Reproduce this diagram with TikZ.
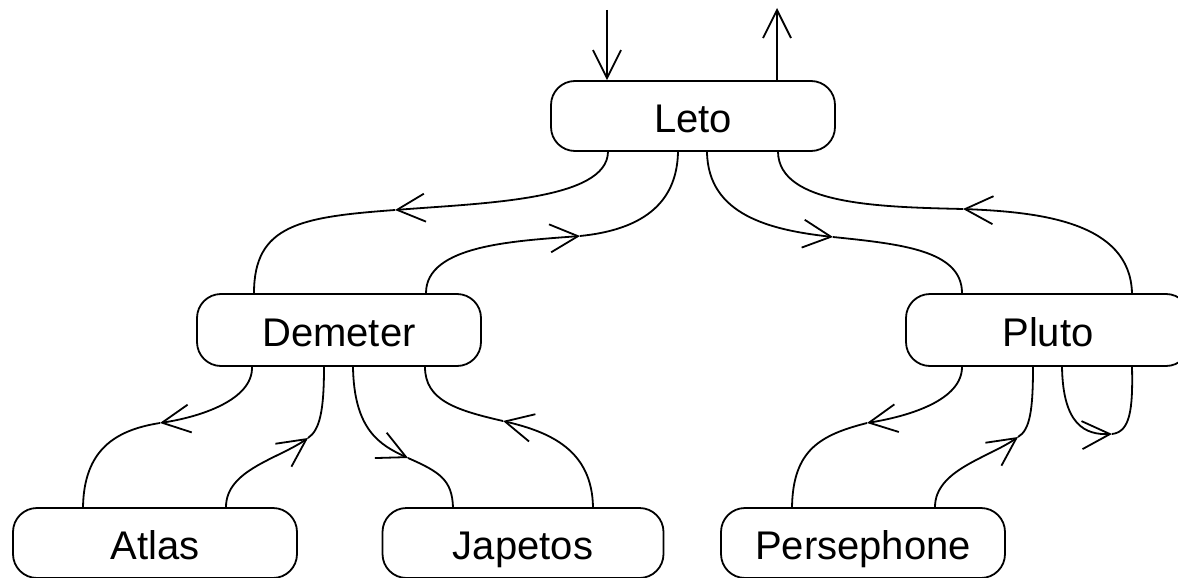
\documentclass[tikz,border=0pt]{standalone}
\usepackage{fontspec}
\setmainfont{Liberation Sans}
\usetikzlibrary{arrows.meta}
\begin{document}
\begin{tikzpicture}[x=1pt, y=-1pt, line width=1.8pt,
  >={Straight Barb[length=28pt,width=28pt]},
  box/.style={draw, rounded corners=24pt, minimum width=284pt, minimum height=70pt,
    inner sep=0pt, text height=32pt, text depth=0pt,
    font=\fontsize{40pt}{48pt}\selectfont},
  midbox/.style={box, minimum height=72pt}]
\useasboundingbox (0,0) rectangle (1178,578);
% nodes
\node[box] (leto) at (693,116) {Leto};
\node[midbox] (demeter) at (339,330) {Demeter};
\node[midbox] (pluto) at (1048,330) {Pluto};
\node[box] (atlas) at (155,543) {Atlas};
\node[box, minimum width=281pt] (japetos) at (523,543) {Japetos};
\node[box] (persephone) at (863,543) {Persephone};
% free ends and arrow points
\coordinate (in) at (607,10);
\coordinate (out) at (777,8);
\coordinate (m1) at (395,210);
\coordinate (m2) at (580,236);
\coordinate (m3) at (833,237);
\coordinate (m4) at (963,209);
\coordinate (m5) at (160,423);
\coordinate (m6) at (308,438);
\coordinate (m7) at (408,458);
\coordinate (m8) at (503,421);
\coordinate (m9) at (867,423);
\coordinate (m10) at (1018,437);
\coordinate (m11) at (1112,434);
% top arrows
\draw[->] (in) -- ([xshift=-86pt]leto.north);
\draw[->] ([xshift=84pt]leto.north) -- (out);
% each connector: second half first, then source -> arrow point (tip at the arrow point)
% Leto -> Demeter
\draw[->] (m1) .. controls (300,217) and (254,225) .. ([xshift=-85pt]demeter.north)
          ([xshift=-85pt]leto.south) .. controls (607,200) and (485,203) .. (m1);
% Demeter -> Leto
\draw[->] (m2) .. controls (640,230) and (677,205) .. ([xshift=-15pt]leto.south)
          ([xshift=87pt]demeter.north) .. controls (426,245) and (515,241) .. (m2);
% Leto -> Pluto
\draw[->] (m3) .. controls (900,244) and (962,250) .. ([xshift=-86pt]pluto.north)
          ([xshift=14pt]leto.south) .. controls (708,215) and (770,230) .. (m3);
% Pluto -> Leto
\draw[->] (m4) .. controls (880,207) and (779,205) .. ([xshift=85pt]leto.south)
          ([xshift=84pt]pluto.north) .. controls (1130,222) and (1040,212) .. (m4);
% Demeter -> Atlas
\draw[->] (m5) .. controls (115,430) and (84,450) .. ([xshift=-72pt]atlas.north)
          ([xshift=-87pt]demeter.south) .. controls (253,400) and (200,417) .. (m5);
% Atlas -> Demeter
\draw[->] (m6) .. controls (320,430) and (324,410) .. ([xshift=-15pt]demeter.south)
          ([xshift=71pt]atlas.north) .. controls (226,470) and (278,459) .. (m6);
% Demeter -> Japetos
\draw[->] (m7) .. controls (440,472) and (452,480) .. ([xshift=-70pt]japetos.north)
          ([xshift=14pt]demeter.south) .. controls (354,430) and (380,445) .. (m7);
% Japetos -> Demeter
\draw[->] (m8) .. controls (455,410) and (425,400) .. ([xshift=86pt]demeter.south)
          ([xshift=70pt]japetos.north) .. controls (592,450) and (550,432) .. (m8);
% Pluto -> Persephone
\draw[->] (m9) .. controls (820,435) and (793,450) .. ([xshift=-71pt]persephone.north)
          ([xshift=-86pt]pluto.south) .. controls (962,400) and (910,416) .. (m9);
% Persephone -> Pluto
\draw[->] (m10) .. controls (1030,430) and (1033,410) .. ([xshift=-15pt]pluto.south)
          ([xshift=72pt]persephone.north) .. controls (935,470) and (988,458) .. (m10);
% Pluto self loop
\draw[->] (m11) .. controls (1130,432) and (1133,410) .. ([xshift=84pt]pluto.south)
          ([xshift=14pt]pluto.south) .. controls (1063,425) and (1085,435) .. (m11);
\end{tikzpicture}
\end{document}
